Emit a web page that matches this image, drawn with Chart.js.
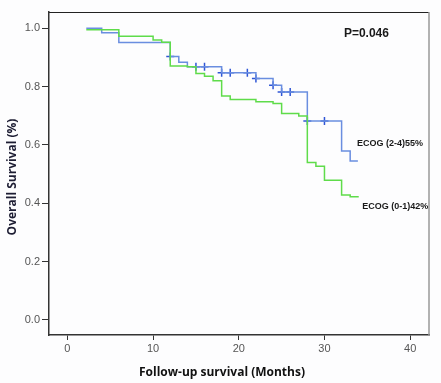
<!DOCTYPE html>
<html><head><meta charset="utf-8">
<script src="https://cdn.jsdelivr.net/npm/chart.js@4.4.1/dist/chart.umd.min.js"></script>
<style>html,body{margin:0;padding:0;background:#fdfdfe}#wrap{width:441px;height:383px;position:relative}</style>
</head><body><div id="wrap"><canvas id="c" width="441" height="383"></canvas></div>
<script>
// ECOG (2-4) step curve
const blueTimes = [2.2, 4, 6, 12, 13, 14, 18, 22, 24, 25, 28, 32, 33, 33.9];
const blueSurv  = [1.0, 0.985, 0.951, 0.903, 0.884, 0.868, 0.848, 0.828, 0.805, 0.782, 0.682, 0.579, 0.545, 0.545];
// ECOG (2-4) censored marks
const blueCensorTimes = [12, 15, 16, 18, 19, 21, 22, 24, 25, 26, 28, 30];
const blueCensorSurv  = [0.903, 0.868, 0.868, 0.848, 0.848, 0.848, 0.828, 0.805, 0.782, 0.782, 0.682, 0.682];
// ECOG (0-1) step curve
const greenTimes = [2.2, 6, 10, 11, 12, 14, 15, 16, 17, 18, 19, 22, 24, 25, 27, 28, 29, 30, 32, 33, 34];
const greenSurv  = [0.995, 0.973, 0.96, 0.952, 0.871, 0.868, 0.845, 0.836, 0.82, 0.768, 0.756, 0.748, 0.742, 0.708, 0.699, 0.54, 0.527, 0.479, 0.428, 0.422, 0.422];
const xTicks = [0, 10, 20, 30, 40];
const yTicks = [0.0, 0.2, 0.4, 0.6, 0.8, 1.0];
const annotations = [
  {text: 'P=0.046', x: 34.9, y: 0.983, size: 12, align: 'center'},
  {text: 'ECOG (2-4)55%', x: 33.8, y: 0.606, size: 9, align: 'left'},
  {text: 'ECOG (0-1)42%', x: 34.4, y: 0.390, size: 9, align: 'left'}
];

const toXY = (t, s) => t.map((v, i) => ({x: v, y: s[i]}));

const decor = {
  id: 'decor',
  afterDraw(chart) {
    const ctx = chart.ctx, a = chart.chartArea;
    const xs = chart.scales.x, ys = chart.scales.y;
    ctx.save();
    // top and right frame
    ctx.lineWidth = 1.2;
    ctx.strokeStyle = '#222';
    ctx.beginPath(); ctx.moveTo(a.left, a.top + 0.5); ctx.lineTo(a.right, a.top + 0.5); ctx.stroke();
    ctx.strokeStyle = '#999';
    ctx.lineWidth = 1.5;
    ctx.beginPath(); ctx.moveTo(a.right, a.top); ctx.lineTo(a.right, a.bottom); ctx.stroke();
    // annotations
    ctx.fillStyle = '#1a1a1a';
    ctx.textBaseline = 'middle';
    annotations.forEach(n => {
      ctx.font = 'bold ' + n.size + 'px "Liberation Sans Narrow", "Liberation Sans", sans-serif';
      ctx.textAlign = n.align;
      ctx.fillText(n.text, xs.getPixelForValue(n.x), ys.getPixelForValue(n.y));
    });
    // axis titles
    ctx.font = 'bold 12px "Open Sans", sans-serif';
    ctx.fillStyle = '#111';
    ctx.textAlign = 'center';
    ctx.fillText('Follow-up survival (Months)', 222, 373);
    ctx.translate(13, 177);
    ctx.rotate(-Math.PI / 2);
    ctx.fillStyle = '#1d1d33';
    ctx.fillText('Overall Survival (%)', 0, 0);
    ctx.restore();
  }
};

new Chart(document.getElementById('c'), {
  type: 'scatter',
  data: {
    datasets: [
      {data: toXY(greenTimes, greenSurv), showLine: true, stepped: true, borderColor: '#5fdc4a', borderWidth: 1.5, pointRadius: 0, fill: false},
      {data: toXY(blueTimes, blueSurv), showLine: true, stepped: true, borderColor: '#6a8ee0', borderWidth: 1.5, pointRadius: 0, fill: false},
      {data: toXY(blueCensorTimes, blueCensorSurv), showLine: false, pointStyle: 'cross', pointRadius: 4, borderColor: '#2f56d6', borderWidth: 1.5}
    ]
  },
  options: {
    responsive: false,
    animation: false,
    layout: {padding: {top: 12, right: 12, left: 0, bottom: 0}},
    plugins: {legend: {display: false}, tooltip: {enabled: false}},
    scales: {
      x: {
        type: 'linear', min: -2.15, max: 42.2,
        afterBuildTicks: s => { s.ticks = xTicks.map(v => ({value: v})); },
        afterFit: s => { s.height = 48; },
        grid: {drawOnChartArea: false, drawTicks: true, tickLength: 5, color: '#333'},
        border: {color: '#333', width: 1.5},
        ticks: {color: '#555', font: {size: 11, family: '"Liberation Sans", Arial, sans-serif'}, padding: 2}
      },
      y: {
        type: 'linear', min: -0.052, max: 1.056,
        afterBuildTicks: s => { s.ticks = yTicks.map(v => ({value: v})); },
        afterFit: s => { s.width = 49; },
        grid: {drawOnChartArea: false, drawTicks: true, tickLength: 7, color: '#333'},
        border: {color: '#333', width: 1.5},
        ticks: {color: '#555', font: {size: 11, family: '"Liberation Sans", Arial, sans-serif'}, padding: 2, callback: v => v.toFixed(1)}
      }
    }
  },
  plugins: [decor]
});
</script></body></html>
